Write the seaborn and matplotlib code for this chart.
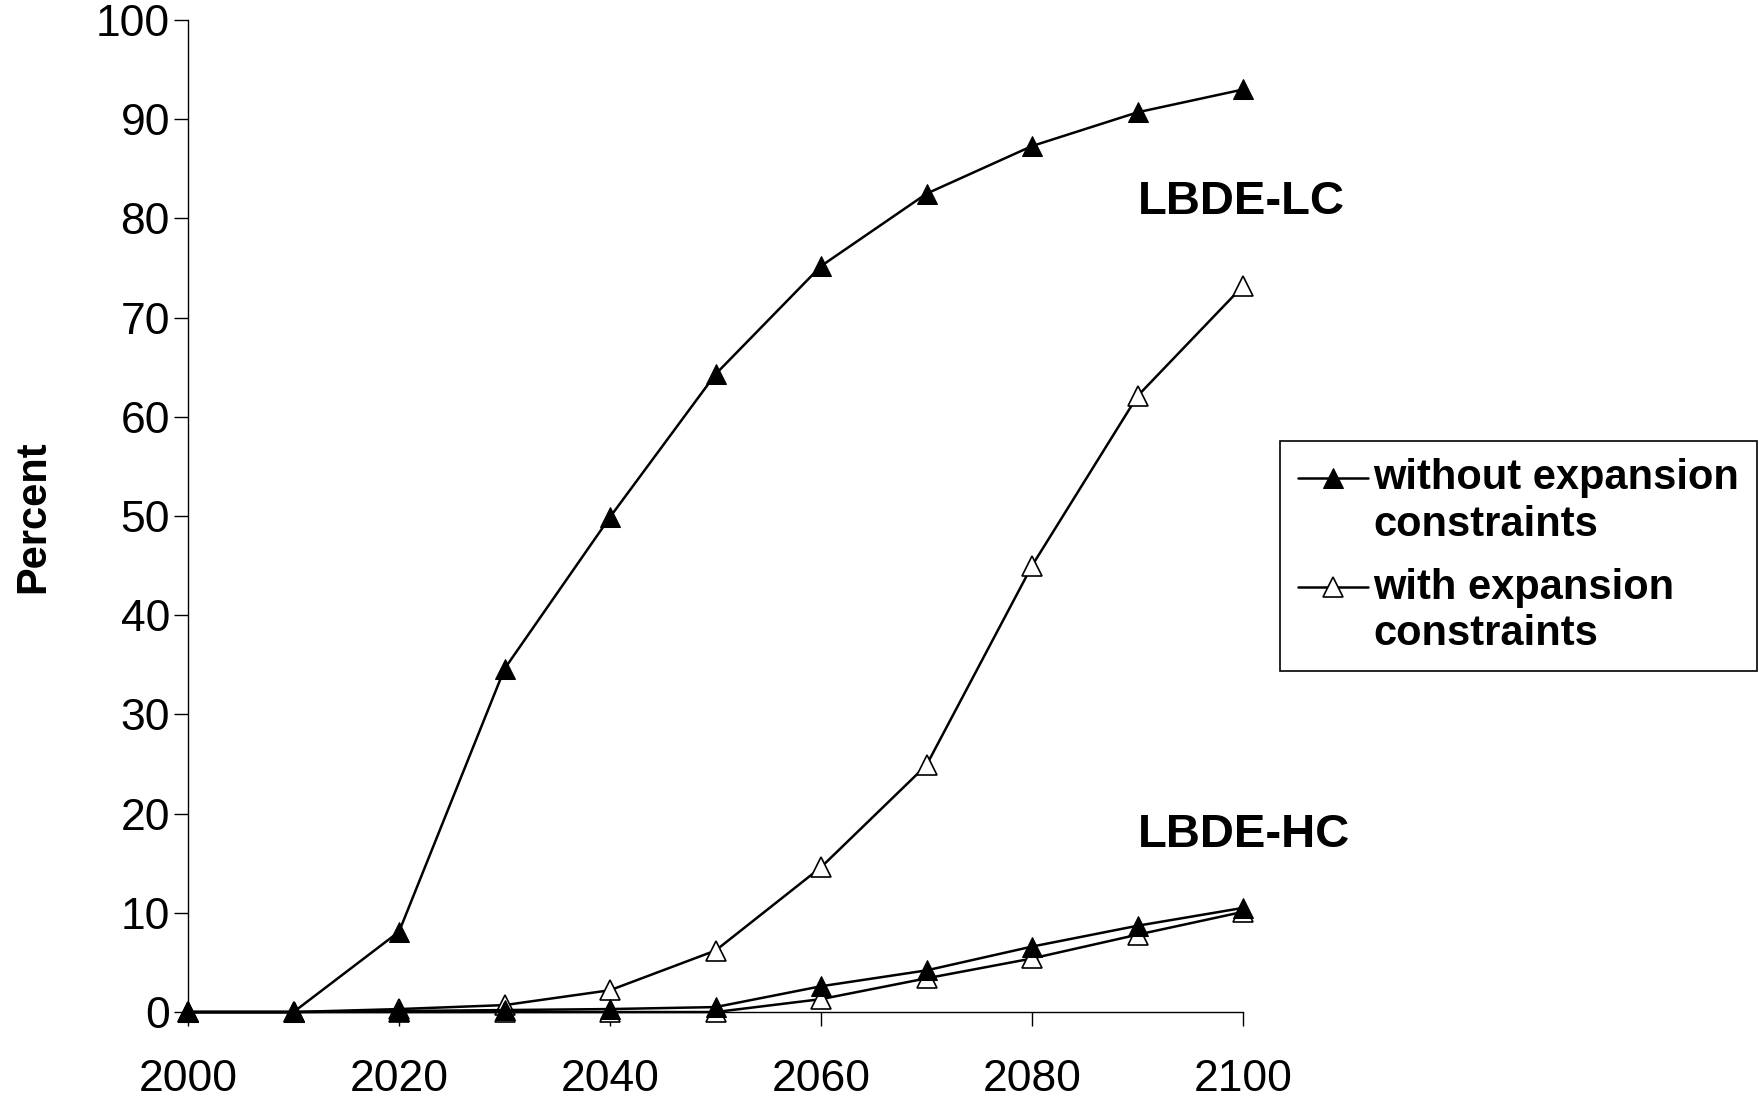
import pandas as pd
import matplotlib
matplotlib.use("Agg")
import matplotlib.pyplot as plt
import seaborn as sns

# data
years = [2000, 2010, 2020, 2030, 2040, 2050, 2060, 2070, 2080, 2090, 2100]
lc_without = [0, 0, 8.1, 34.6, 49.9, 64.3, 75.2, 82.5, 87.3, 90.7, 93.0]
lc_with = [0, 0, 0.3, 0.7, 2.2, 6.2, 14.6, 24.9, 45.0, 62.1, 73.2]
hc_without = [0, 0, 0.1, 0.2, 0.3, 0.5, 2.6, 4.2, 6.6, 8.7, 10.5]
hc_with = [0, 0, 0, 0, 0, 0, 1.3, 3.4, 5.4, 7.8, 10.1]

series_labels = ["without expansion\nconstraints", "with expansion\nconstraints"]
x_ticks = [2000, 2020, 2040, 2060, 2080, 2100]
y_ticks = list(range(0, 101, 10))

sns.set_style("white")
plt.rcParams["font.family"] = ["Liberation Sans", "DejaVu Sans"]
plt.rcParams["text.color"] = "black"
plt.rcParams["xtick.color"] = "black"
plt.rcParams["ytick.color"] = "black"

fig = plt.figure(figsize=(17.59, 11.01), dpi=100)
ax = fig.add_axes([0.1069, 0.0808, 0.5998, 0.901])

# open triangles first so the filled ones sit on top
for vals, lab in [(lc_with, series_labels[1]), (hc_with, None)]:
    sns.lineplot(x=years, y=vals, ax=ax, color="black", lw=1.8, marker="^",
                 markersize=15, markerfacecolor="white", markeredgecolor="black",
                 markeredgewidth=1.2, label=lab, clip_on=False)
for vals, lab in [(lc_without, series_labels[0]), (hc_without, None)]:
    sns.lineplot(x=years, y=vals, ax=ax, color="black", lw=1.8, marker="^",
                 markersize=15, markerfacecolor="black", markeredgecolor="black",
                 label=lab, clip_on=False)

ax.set_xlim(2000, 2100)
ax.set_ylim(0, 100)
ax.set_xticks(x_ticks)
ax.set_yticks(y_ticks)
ax.tick_params(axis="both", direction="out", length=10, width=1, color="black",
               labelcolor="black", labelsize=32, left=True, bottom=True)
ax.tick_params(axis="x", pad=24)
ax.tick_params(axis="y", pad=3)
sns.despine(ax=ax)
for s in ["left", "bottom"]:
    ax.spines[s].set_color("black")
    ax.spines[s].set_linewidth(1)

ax.set_xlabel("")
ax.set_ylabel("")
fig.text(0.019, 0.531, "Percent", rotation=90, fontsize=30, fontweight="bold",
         ha="center", va="center", color="black")

ax.text(2090, 81.7, "LBDE-LC", fontsize=34, fontweight="bold", va="center",
        ha="left", color="black")
ax.text(2090, 17.8, "LBDE-HC", fontsize=34, fontweight="bold", va="center",
        ha="left", color="black")

handles, labels = ax.get_legend_handles_labels()
order = [labels.index(series_labels[0]), labels.index(series_labels[1])]
leg = ax.legend([handles[i] for i in order], [labels[i] for i in order],
                loc="upper left", bbox_to_anchor=(0.7277, 0.5995),
                bbox_transform=fig.transFigure, borderaxespad=0, fancybox=False,
                frameon=True, edgecolor="black", framealpha=1,
                prop={"weight": "bold", "size": 30}, handlelength=1.7,
                handletextpad=0.12, borderpad=0.42, labelspacing=0.55)
leg.get_frame().set_linewidth(1.2)
for t in leg.get_texts():
    t.set_color("black")
# put each legend symbol next to the first line of its label
for h in leg.legend_handles:
    h.set_ydata([y + 17.5 for y in h.get_ydata()])

fig.savefig("out.png", dpi=100)
